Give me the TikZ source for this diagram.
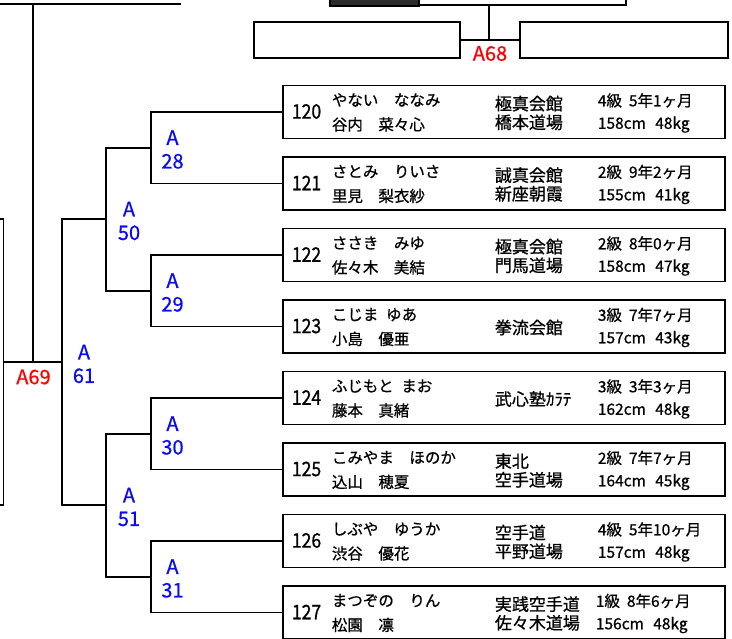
\documentclass[tikz,border=0pt]{standalone}
\usepackage{fontspec}
\setmainfont{Noto Sans CJK JP}[FakeBold=0.8]
\newfontfamily\numfont{Noto Sans CJK JP}[FakeStretch=0.88,FakeBold=0.8]
\definecolor{labred}{RGB}{255,0,0}
\definecolor{labblue}{RGB}{10,10,245}
\definecolor{darkfill}{RGB}{45,45,45}
\newcommand\pentry[8]{%
  \node[pbox] (b#1) at (504,#2) {};
  \node[numt] (n#1) at (291,#2-0.5) {#1};
  \node[namet] (k#1) at (331,#2-10) {#3};
  \node[namet] (m#1) at (331,#2+14.5) {#4};
  \node[dojot] (d#1) at (494,#2+1) {#5};
  \node[infot] (g#1) at (#8,#2-9.5) {#6};
  \node[infot] (h#1) at (#8,#2+13) {#7};
}
\begin{document}
\begin{tikzpicture}[x=1pt,y=-1pt,line width=1.8pt,
  pbox/.style={draw, minimum width=442pt, minimum height=53pt, inner sep=0pt},
  tbox/.style={draw, minimum height=36pt, inner sep=0pt},
  numt/.style={anchor=west, inner sep=0pt, font=\numfont\fontsize{20}{20}\selectfont},
  namet/.style={anchor=west, inner sep=0pt, text height=0.88em, text depth=0.12em, font=\fontsize{15.5}{15.5}\selectfont},
  dojot/.style={anchor=west, inner sep=0pt, align=left, font=\fontsize{17}{18.7}\selectfont},
  infot/.style={anchor=west, inner sep=0pt, text height=0.88em, text depth=0.12em, font=\fontsize{15.5}{15.5}\selectfont},
  redlab/.style={inner sep=0pt, text=labred, font=\fontsize{20}{20}\selectfont},
  bluelab/.style={inner sep=0pt, text=labblue, align=center, font=\fontsize{20}{23.5}\selectfont}]
\useasboundingbox (0,0) rectangle (732,639);

% top partial shapes
\coordinate (tl0) at (0,4);
\coordinate (tl1) at (181,4);
\draw (tl0) -- (tl1);
\node[draw, fill=darkfill, inner sep=0pt, minimum width=89pt, minimum height=9pt] (dk) at (374.5,1.5) {};
\coordinate (tr0) at (419,5);
\coordinate (tr1) at (626,5);
\coordinate (tr2) at (626,-2);
\draw (tr0) -- (tr1) -- (tr2);

% top boxes A68
\node[tbox, minimum width=206pt] (t1) at (357,40) {};
\node[tbox, minimum width=208pt] (t2) at (624,40) {};
\coordinate (j68) at (489,40);
\coordinate (j68t) at (489,5);
\draw (t1.east) -- (t2.west);
\draw (j68t) -- (j68);
\node[redlab] (l68) at (490,53.5) {A68};

% player boxes
\pentry{120}{112}{やない　ななみ}{谷内　菜々心}{極真会館\\橋本道場}{4級\hspace{0.45em}5年1ヶ月}{158cm\hspace{0.6em}48kg}{597}
\pentry{121}{183.5}{さとみ　りいさ}{里見　梨衣紗}{誠真会館\\新座朝霞}{2級\hspace{0.45em}9年2ヶ月}{155cm\hspace{0.6em}41kg}{597}
\pentry{122}{255}{ささき　みゆ}{佐々木　美結}{極真会館\\門馬道場}{2級\hspace{0.45em}8年0ヶ月}{158cm\hspace{0.6em}47kg}{597}
\pentry{123}{326.5}{こじま\hspace{0.5em}ゆあ}{小島　優亜}{拳流会館}{3級\hspace{0.45em}7年7ヶ月}{157cm\hspace{0.6em}43kg}{597}
\pentry{124}{398}{ふじもと\hspace{0.5em}まお}{藤本　真緒}{武心塾ｶﾗﾃ}{3級\hspace{0.45em}3年3ヶ月}{162cm\hspace{0.6em}48kg}{597}
\pentry{125}{469.5}{こみやま　ほのか}{込山　穂夏}{東北\\空手道場}{2級\hspace{0.45em}7年7ヶ月}{164cm\hspace{0.6em}45kg}{597}
\pentry{126}{541}{しぶや　ゆうか}{渋谷　優花}{空手道\\平野道場}{4級\hspace{0.45em}5年10ヶ月}{157cm\hspace{0.6em}48kg}{597}
\pentry{127}{612.5}{まつぞの　りん}{松園　凛}{実践空手道\\佐々木道場}{1級\hspace{0.45em}8年6ヶ月}{156cm\hspace{0.6em}48kg}{595}

% bracket junctions
\coordinate (j28) at (151,147.75);
\coordinate (j29) at (151,290.75);
\coordinate (j30) at (151,433.75);
\coordinate (j31) at (151,576.75);
\coordinate (j50) at (106,219.25);
\coordinate (j51) at (106,505.25);
\coordinate (j61) at (62,362.25);
\coordinate (j69) at (33,362.25);
\coordinate (lb0) at (0,219.25);
\coordinate (lb1) at (3.5,219.25);
\coordinate (lb2) at (3.5,505.25);
\coordinate (lb3) at (0,505.25);
\coordinate (lb4) at (3.5,362.25);
\coordinate (vt) at (33,4);

\draw (b120.west) -| (j28) |- (b121.west);
\draw (b122.west) -| (j29) |- (b123.west);
\draw (b124.west) -| (j30) |- (b125.west);
\draw (b126.west) -| (j31) |- (b127.west);
\draw (j28) -| (j50);
\draw (j29) -| (j50);
\draw (j30) -| (j51);
\draw (j31) -| (j51);
\draw (j50) -| (j61);
\draw (j51) -| (j61);
\draw (lb4) -- (j61);
\draw (vt) -- (j69);
\draw (lb0) -- (lb1) -- (lb2) -- (lb3);

% labels
\node[bluelab] (l28) at (172.5,149.5) {A\\28};
\node[bluelab] (l29) at (172.5,292.5) {A\\29};
\node[bluelab] (l30) at (172.5,435.5) {A\\30};
\node[bluelab] (l31) at (172.5,578.5) {A\\31};
\node[bluelab] (l50) at (129,221) {A\\50};
\node[bluelab] (l51) at (129,507) {A\\51};
\node[bluelab] (l61) at (84,364) {A\\61};
\node[redlab] (l69) at (33.5,377) {A69};
\end{tikzpicture}
\end{document}
